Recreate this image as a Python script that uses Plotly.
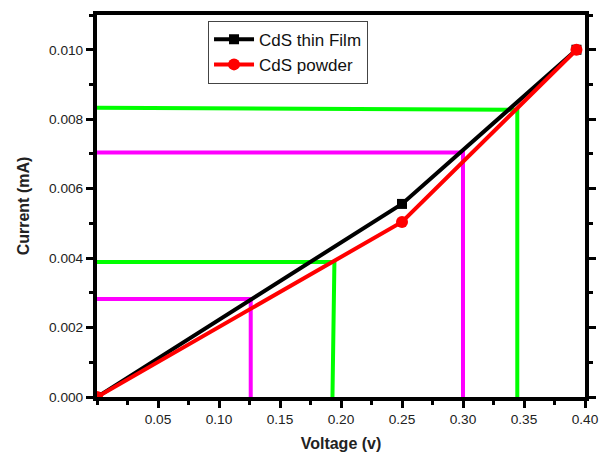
import plotly.graph_objects as go

# Data
voltage_film = [0.0, 0.25, 0.393]
current_film = [0.0, 0.00556, 0.0100]
voltage_powder = [0.0, 0.25, 0.393]
current_powder = [0.0, 0.00504, 0.0100]

# Guide lines (horizontal then vertical down to axis)
green_hi_x = [0.0, 0.3445, 0.3445]
green_hi_y = [0.00833, 0.00827, 0.0]
magenta_hi_x = [0.0, 0.300, 0.300]
magenta_hi_y = [0.00704, 0.00704, 0.0]
green_lo_x = [0.0, 0.1946, 0.193]
green_lo_y = [0.00389, 0.00389, 0.0]
magenta_lo_x = [0.0, 0.126, 0.126]
magenta_lo_y = [0.00282, 0.00282, 0.0]

x_tickvals = [0.05, 0.10, 0.15, 0.20, 0.25, 0.30, 0.35, 0.40]
y_tickvals = [0.000, 0.002, 0.004, 0.006, 0.008, 0.010]

FONT = "Liberation Sans, Arial, sans-serif"

fig = go.Figure()

for xs, ys, col in [(green_hi_x, green_hi_y, "#00ff00"),
                    (magenta_hi_x, magenta_hi_y, "#ff00ff"),
                    (green_lo_x, green_lo_y, "#00ff00"),
                    (magenta_lo_x, magenta_lo_y, "#ff00ff")]:
    fig.add_trace(go.Scatter(x=xs, y=ys, mode="lines", showlegend=False,
                             line=dict(color=col, width=4), hoverinfo="skip"))

fig.add_trace(go.Scatter(x=voltage_film, y=current_film, mode="lines+markers",
                         name="CdS thin Film",
                         line=dict(color="black", width=4),
                         marker=dict(symbol="square", size=10, color="black")))
fig.add_trace(go.Scatter(x=voltage_powder, y=current_powder, mode="lines+markers",
                         name="CdS powder",
                         line=dict(color="#ff0000", width=4),
                         marker=dict(symbol="circle", size=12, color="#ff0000")))

axis_common = dict(showgrid=False, zeroline=False, showline=True, linecolor="black",
                   linewidth=4, ticks="outside", ticklen=7, tickwidth=3, automargin=False,
                   tickcolor="black", tickfont=dict(family=FONT, size=13.7, color="#222"))

fig.update_xaxes(range=[0, 0.40], tickvals=x_tickvals, tickformat=".2f", mirror=True,
                 minor=dict(dtick=0.025, tick0=0, ticks="outside", ticklen=4,
                            tickwidth=3, tickcolor="black"),
                 title=dict(text="<b>Voltage (v)</b>", font=dict(family=FONT, size=16, color="#222"),
                            standoff=12),
                 **axis_common)
fig.update_yaxes(range=[0, 0.011], tickvals=y_tickvals, tickformat=".3f", mirror="ticks",
                 minor=dict(dtick=0.001, tick0=0, ticks="outside", ticklen=4,
                            tickwidth=3, tickcolor="black"),
                 title=dict(text="<b>Current (mA)</b>", font=dict(family=FONT, size=16, color="#222"),
                            standoff=16),
                 **axis_common)

fig.update_layout(
    width=599, height=452,
    margin=dict(l=97, r=14, t=15, b=55),
    plot_bgcolor="white", paper_bgcolor="white",
    font=dict(family=FONT),
    legend=dict(x=0.2275, y=0.985, xanchor="left", yanchor="top",
                bgcolor="white", bordercolor="#444", borderwidth=1,
                font=dict(family=FONT, size=17, color="#111"),
                itemwidth=40, tracegroupgap=0),
)

fig.write_html("out.html")
